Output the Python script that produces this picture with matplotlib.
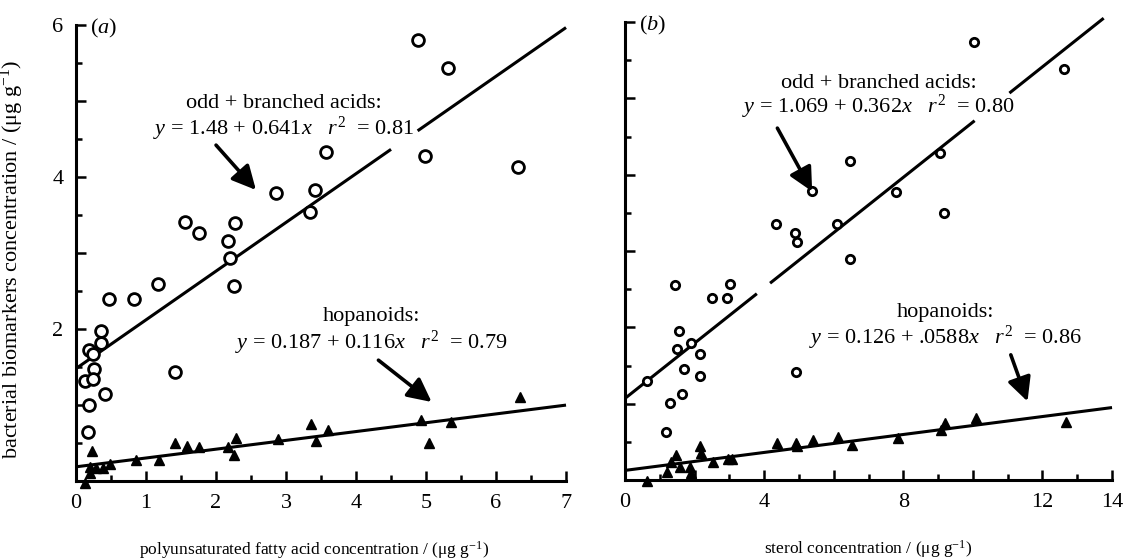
import numpy as np
import matplotlib
matplotlib.use("Agg")
import matplotlib.pyplot as plt
from matplotlib.ticker import MultipleLocator, FixedLocator

plt.rcParams['font.family'] = ['Liberation Serif', 'DejaVu Serif']
plt.rcParams['mathtext.fontset'] = 'custom'
plt.rcParams['mathtext.rm'] = 'Liberation Serif'
plt.rcParams['mathtext.it'] = 'Liberation Serif:italic'

# ---------------- data: panel (a) ----------------
a_acid_x = [0.47, 0.83, 1.17, 1.56, 1.75, 2.17, 2.20, 2.27, 2.25, 2.85, 3.34, 3.42,
            3.57, 4.88, 5.32, 4.99, 6.32, 0.35, 0.35, 0.19, 0.24, 0.26, 0.13, 0.24,
            0.41, 0.18, 0.17, 1.41]
a_acid_y = [2.40, 2.40, 2.59, 3.41, 3.27, 3.16, 2.93, 3.39, 2.57, 3.79, 3.54, 3.83,
            4.33, 5.80, 5.43, 4.28, 4.13, 1.97, 1.81, 1.72, 1.67, 1.47, 1.31, 1.34,
            1.14, 1.00, 0.64, 1.43]
a_hop_x = [0.23, 1.41, 1.59, 1.76, 2.17, 2.29, 2.25, 2.88, 3.36, 3.43, 3.60, 0.85,
           1.18, 0.13, 0.20, 0.29, 0.39, 0.48, 0.20, 4.93, 5.04, 5.36, 6.34]
a_hop_y = [0.39, 0.50, 0.46, 0.45, 0.45, 0.56, 0.34, 0.55, 0.75, 0.53, 0.67, 0.28,
           0.28, -0.02, 0.19, 0.17, 0.17, 0.23, 0.10, 0.80, 0.50, 0.78, 1.11]
a_acid_fit = (1.48, 0.641)
a_hop_fit = (0.187, 0.116)

# ---------------- data: panel (b) ----------------
b_acid_x = [1.43, 2.51, 2.92, 3.03, 4.35, 4.88, 4.93, 5.38, 6.10, 6.46, 6.48, 10.03,
            12.62, 9.05, 7.79, 9.17, 1.54, 1.49, 1.91, 2.16, 1.71, 2.17, 1.65, 1.29,
            1.19, 0.64, 4.91]
b_acid_y = [2.55, 2.38, 2.38, 2.57, 3.36, 3.23, 3.12, 3.79, 3.35, 2.90, 4.18, 5.74,
            5.39, 4.28, 3.77, 3.50, 1.95, 1.72, 1.80, 1.65, 1.46, 1.36, 1.13, 1.01,
            0.63, 1.30, 1.42]
b_hop_x = [0.64, 1.22, 1.46, 1.33, 1.57, 1.86, 1.91, 2.17, 2.19, 2.54, 2.95, 3.08,
           4.38, 4.91, 4.95, 5.40, 6.12, 6.52, 7.84, 9.09, 9.21, 10.09, 12.67]
b_hop_y = [-0.01, 0.11, 0.33, 0.23, 0.17, 0.17, 0.09, 0.44, 0.35, 0.24, 0.28, 0.28,
           0.48, 0.48, 0.44, 0.53, 0.56, 0.46, 0.55, 0.65, 0.75, 0.81, 0.76]
b_acid_fit = (1.069, 0.362)
b_hop_fit = (0.126, 0.0588)

# labels
a_acid_label = ["odd + branched acids:", "$y$ = 1.48 + 0.641$x$   $r^{2}$  = 0.81"]
a_hop_label = ["hopanoids:", "$y$ = 0.187 + 0.116$x$   $r^{2}$  = 0.79"]
b_acid_label = ["odd + branched acids:", "$y$ = 1.069 + 0.362$x$   $r^{2}$  = 0.80"]
b_hop_label = ["hopanoids:", "$y$ = 0.126 + .0588$x$   $r^{2}$  = 0.86"]
a_xticks = [0, 1, 2, 3, 4, 5, 6, 7]
b_xticks_all = [0, 2, 4, 6, 8, 10, 12, 14]
b_xticks_labelled = [0, 4, 8, 12, 14]
a_yticks_all = [0, 1, 2, 3, 4, 5, 6]
a_yticks_labelled = [2, 4, 6]

fig = plt.figure(figsize=(11.30, 5.59), dpi=100)
axa = fig.add_axes([0.0673, 0.1395, 0.4336, 0.8157])
axb = fig.add_axes([0.5531, 0.1413, 0.4310, 0.8193])

FS = 16
TICKFS = 16
XLFS = 12.5
YLFS = 16
LW = 2.2


def draw_fit(ax, fit, segments):
    b0, b1 = fit
    for x0, x1 in segments:
        xs = np.array([x0, x1])
        ax.plot(xs, b0 + b1 * xs, color='black', lw=LW, solid_capstyle='butt',
                zorder=2, clip_on=False)


def style(ax, xmax):
    ax.set_xlim(0, xmax)
    ax.set_ylim(0, 6)
    for s in ['top', 'right']:
        ax.spines[s].set_visible(False)
    for s in ['left', 'bottom']:
        ax.spines[s].set_linewidth(2.2)
    ax.yaxis.set_major_locator(FixedLocator(a_yticks_all))
    ax.yaxis.set_minor_locator(MultipleLocator(0.5))
    ax.tick_params(which='both', direction='in', width=1.8, labelsize=TICKFS)
    ax.tick_params(which='major', length=7)
    ax.tick_params(which='minor', length=4)
    ax.tick_params(axis='x', which='major', pad=9)
    ax.tick_params(axis='y', which='major', pad=9)


def label(ax, xy, lines, fs=FS):
    x, y1, y2 = xy
    ax.text(x, y1, lines[0], ha='center', va='center', fontsize=fs)
    ax.text(x, y2, lines[1], ha='center', va='center', fontsize=fs)


def arrow(ax, tail, head):
    ax.annotate('', xy=head, xytext=tail,
                arrowprops=dict(arrowstyle='-|>,head_length=0.9,head_width=0.45',
                                color='black', lw=2.6, mutation_scale=16,
                                shrinkA=0, shrinkB=0))


# ---------- panel (a) ----------
style(axa, 7)
axa.xaxis.set_major_locator(FixedLocator(a_xticks))
axa.xaxis.set_minor_locator(MultipleLocator(0.5))
axa.set_yticklabels([str(t) if t in a_yticks_labelled else '' for t in a_yticks_all])

draw_fit(axa, a_acid_fit, [(0, 4.5), (4.88, 7.0)])
draw_fit(axa, a_hop_fit, [(0, 7.0)])
axa.plot(a_acid_x, a_acid_y, 'o', ms=8.5, mfc='white', mec='black', mew=2.0,
         zorder=3, clip_on=False)
axa.plot(a_hop_x, a_hop_y, '^', ms=7.5, color='black', zorder=3, clip_on=False)
label(axa, (2.97, 4.97, 4.63), a_acid_label)
label(axa, (4.22, 2.16, 1.82), a_hop_label)
arrow(axa, (2.0, 4.42), (2.57, 3.83))
arrow(axa, (4.32, 1.59), (5.08, 1.04))
axa.text(0.2, 5.96, '($a$)', fontsize=FS, va='center', ha='left')
axa.set_xlabel('polyunsaturated fatty acid concentration / (μg g$^{-1}$)', fontsize=XLFS)
axa.xaxis.set_label_coords(0.486, -0.127)
axa.set_ylabel('bacterial biomarkers concentration / (μg g$^{-1}$)', fontsize=YLFS)
axa.yaxis.set_label_coords(-0.102, 0.485)

# ---------- panel (b) ----------
style(axb, 14)
axb.xaxis.set_major_locator(FixedLocator(b_xticks_all))
axb.xaxis.set_minor_locator(MultipleLocator(1))
axb.set_xticklabels([str(t) if t in b_xticks_labelled else '' for t in b_xticks_all])
axb.set_yticklabels([])

draw_fit(axb, b_acid_fit, [(0, 3.79), (4.17, 10.05), (11.05, 13.76)])
draw_fit(axb, b_hop_fit, [(0, 14.0)])
axb.plot(b_acid_x, b_acid_y, 'o', ms=6.0, mfc='white', mec='black', mew=2.0,
         zorder=3, clip_on=False)
axb.plot(b_hop_x, b_hop_y, '^', ms=7.5, color='black', zorder=3, clip_on=False)
label(axb, (7.29, 5.20, 4.89), b_acid_label)
label(axb, (9.2, 2.19, 1.86), b_hop_label)
arrow(axb, (4.38, 4.61), (5.38, 3.78))
arrow(axb, (11.09, 1.64), (11.57, 1.03))
axb.text(0.4, 5.96, '($b$)', fontsize=FS, va='center', ha='left')
axb.set_xlabel('sterol concentration / (μg g$^{-1}$)', fontsize=XLFS)
axb.xaxis.set_label_coords(0.499, -0.127)

fig.savefig('out.png', dpi=100)
